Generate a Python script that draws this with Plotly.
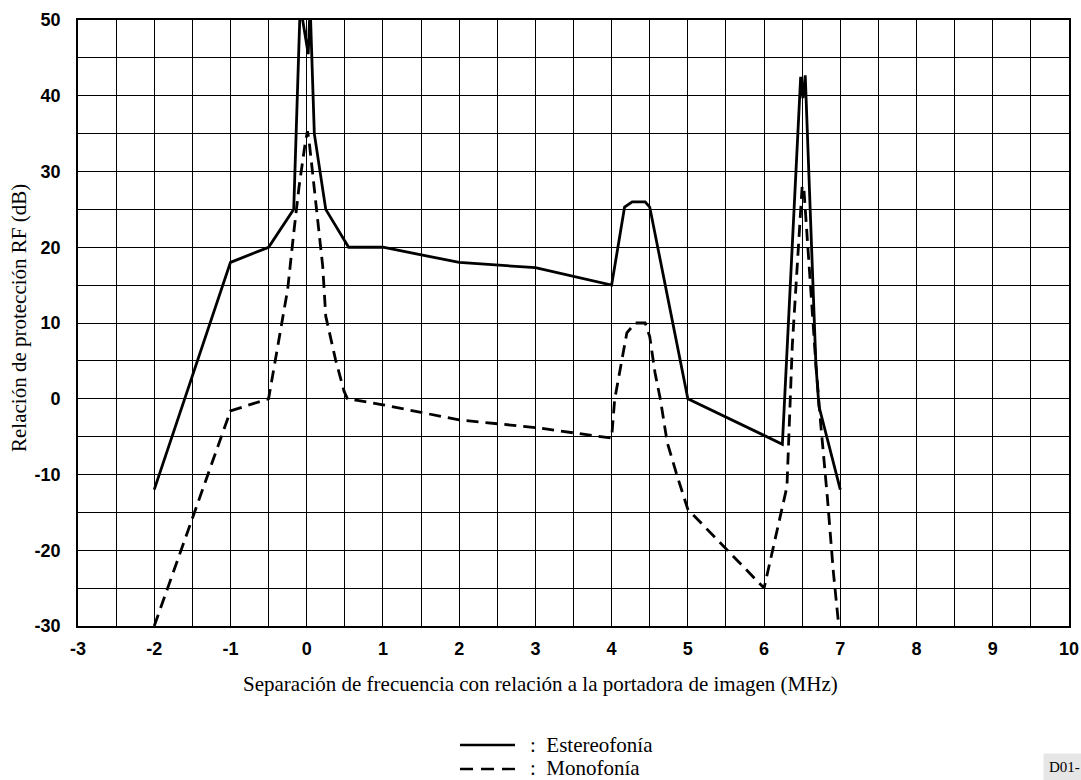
import plotly.graph_objects as go

# ---- data ----
stereo_x = [-2, -1, -0.5, -0.17, -0.085, 0.02, 0.045, 0.1, 0.25, 0.55, 1, 2, 3, 4,
            4.17, 4.27, 4.44, 4.5, 5, 6.24, 6.48, 6.51, 6.54, 6.68, 6.72, 7]
stereo_y = [-12, 18, 20, 25, 52, 45.5, 52, 35, 25, 20, 20, 18, 17.3, 15,
            25.3, 26, 26, 25.3, 0, -6, 42.5, 39.7, 42.7, 4.5, -1, -12]

mono_x = [-2, -1, -0.5, -0.25, -0.17, -0.1, -0.02, 0.01, 0.03, 0.1, 0.14, 0.21, 0.25,
          0.38, 0.49, 0.535, 1, 2, 3, 4, 4.04, 4.13, 4.2, 4.31, 4.44, 4.5, 4.57,
          4.64, 4.73, 4.86, 5, 6, 6.3, 6.37, 6.43, 6.48, 6.5, 6.52, 6.59, 6.68,
          6.74, 6.83, 6.91, 6.98]
mono_y = [-30, -1.6, 0, 14.4, 21.9, 28, 33.7, 35.3, 34.2, 28, 24, 17.5, 10.9,
          5.1, 1, 0, -0.8, -2.8, -3.8, -5.2, -0.1, 5.1, 8.7, 10, 10, 8.2, 3.4,
          -0.1, -5.8, -10.2, -14.6, -25, -11.6, 7.0, 17.1, 24.6, 28.1, 28, 17.1,
          4.5, -3.0, -13, -23, -30]

x_ticks = [-3, -2, -1, 0, 1, 2, 3, 4, 5, 6, 7, 8, 9, 10]
x_tick_text = ["-3", "-2", "-1", "0", "1", "2", "3", "4", "5", "6", "7", "8", "9", "10"]
y_ticks = [-30, -20, -10, 0, 10, 20, 30, 40, 50]
y_tick_text = ["-30", "-20", "-10", "0", "10", "20", "30", "40", "50"]

series_names = ["Estereofonía", "Monofonía"]
x_title = "Separación de frecuencia con relación a la portadora de imagen (MHz)"
y_title = "Relación de protección RF (dB)"
figure_code = "D01-"

SERIF = "Liberation Serif, Times New Roman, serif"
SANS = "Liberation Sans, Arial, sans-serif"

W, H = 1081, 780
ML, MR, MT, MB = 78, 12, 20, 154
PW, PH = W - ML - MR, H - MT - MB


def px(xp):
    return (xp - ML) / PW


def py(yp):
    return (H - MB - yp) / PH


fig = go.Figure()
fig.add_trace(go.Scatter(x=stereo_x, y=stereo_y, mode="lines", name=series_names[0],
                         line=dict(color="black", width=2.8)))
fig.add_trace(go.Scatter(x=mono_x, y=mono_y, mode="lines", name=series_names[1],
                         line=dict(color="black", width=2.8, dash="12px,7px")))

# legend drawn as keys + labels below the chart (as in the reference)
legend_shapes = [
    dict(type="line", xref="paper", yref="paper", x0=px(460), x1=px(515),
         y0=py(745), y1=py(745), line=dict(color="black", width=2.4)),
    dict(type="line", xref="paper", yref="paper", x0=px(460), x1=px(515),
         y0=py(769), y1=py(769), line=dict(color="black", width=2.4, dash="13px,8px")),
]
legend_labels = [
    dict(text=":\u00a0\u00a0" + series_names[0], xref="paper", yref="paper",
         x=px(528), y=py(745), xanchor="left", yanchor="middle", showarrow=False,
         font=dict(family=SERIF, size=21, color="black")),
    dict(text=":\u00a0\u00a0" + series_names[1], xref="paper", yref="paper",
         x=px(528), y=py(768), xanchor="left", yanchor="middle", showarrow=False,
         font=dict(family=SERIF, size=21, color="black")),
]

fig.update_layout(
    width=W, height=H,
    margin=dict(l=ML, r=MR, t=MT, b=MB, autoexpand=False),
    paper_bgcolor="white", plot_bgcolor="white",
    showlegend=False,
    shapes=legend_shapes,
    annotations=[
        dict(text=x_title, xref="paper", yref="paper", x=px(540), y=py(684),
             xanchor="center", yanchor="middle", showarrow=False,
             font=dict(family=SERIF, size=21, color="black")),
        dict(text=y_title, xref="paper", yref="paper", x=px(19), y=py(318),
             xanchor="center", yanchor="middle", showarrow=False, textangle=-90,
             font=dict(family=SERIF, size=21, color="black")),
        dict(text=figure_code, xref="paper", yref="paper", x=px(1043), y=py(767),
             xanchor="left", yanchor="middle", showarrow=False,
             bgcolor="#e6e6e6", borderpad=5,
             font=dict(family=SERIF, size=15, color="black")),
    ] + legend_labels,
)

fig.update_xaxes(range=[-3, 10], tickvals=x_ticks, ticktext=x_tick_text,
                 showgrid=True, gridcolor="black", gridwidth=1.4,
                 minor=dict(dtick=0.5, tick0=0, showgrid=True, gridcolor="black", gridwidth=1),
                 showline=True, linecolor="black", linewidth=1.6, mirror=True,
                 zeroline=False, ticks="", ticklabelstandoff=6,
                 tickfont=dict(family=SANS, size=18, color="black", weight="bold"))
fig.update_yaxes(range=[-30, 50], tickvals=y_ticks, ticktext=y_tick_text,
                 showgrid=True, gridcolor="black", gridwidth=1.2,
                 minor=dict(dtick=5, tick0=0, showgrid=True, gridcolor="black", gridwidth=1.2),
                 showline=True, linecolor="black", linewidth=1.6, mirror=True,
                 zeroline=False, ticks="", ticklabelstandoff=12,
                 tickfont=dict(family=SANS, size=18, color="black", weight="bold"))

fig.write_html("out.html", config={"displayModeBar": False},
               post_script="document.body.style.margin='0';document.body.style.overflow='hidden';")
